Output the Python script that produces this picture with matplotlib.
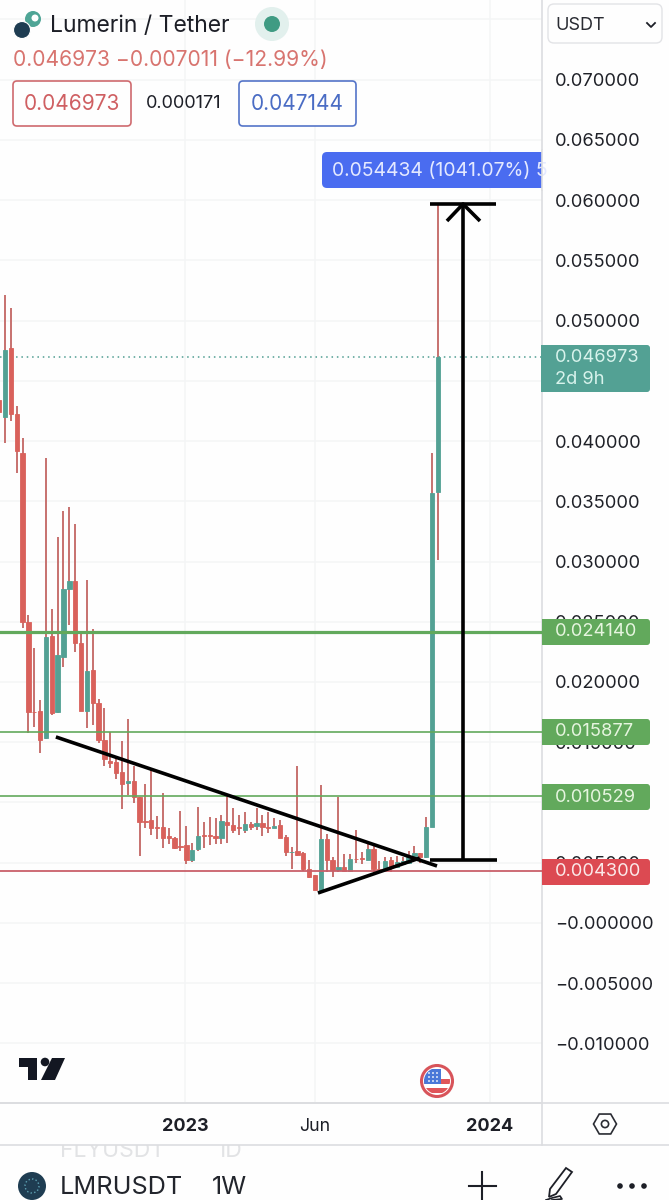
# -*- coding: utf-8 -*-
import numpy as np
import matplotlib
matplotlib.use("Agg")
import matplotlib.pyplot as plt
from matplotlib.patches import Circle, FancyBboxPatch, Rectangle, Polygon, RegularPolygon

plt.rcParams['font.family'] = ['Inter', 'DejaVu Sans']

# weekly candles, values in 1/1000 USDT, first bar is the sliver on the left edge
bar_idx = np.arange(-1, 75)
opens = [43.40, 41.99, 47.72, 42.24, 39.00, 24.98, 17.51, 17.60, 15.36, 23.82,
         17.51, 22.08, 27.72, 28.39, 23.24, 17.60, 21.00, 18.26, 15.19, 13.45,
         13.36, 12.53, 11.62, 11.79, 10.46, 8.47, 8.55, 7.97, 7.97, 7.22,
         7.05, 6.39, 6.47, 5.23, 6.14, 7.30, 7.30, 7.22, 7.05, 8.38,
         8.13, 7.97, 7.72, 8.22, 8.05, 8.30, 7.97, 7.89, 8.13, 7.14,
         5.85, 5.98, 5.81, 4.48, 3.98, 2.74, 6.97, 5.23, 4.40, 4.65,
         4.32, 5.35, 5.39, 5.23, 6.14, 4.48, 4.40, 5.23, 4.65, 4.90,
         4.98, 5.56, 5.81, 5.48, 7.97, 35.77]
closes = [42.41, 47.55, 42.24, 39.17, 24.98, 17.51, 17.47, 15.19, 23.74, 17.43,
          22.24, 27.72, 28.39, 23.24, 17.60, 20.92, 18.26, 15.19, 13.61, 13.28,
          12.45, 11.54, 11.79, 10.46, 8.38, 8.38, 7.89, 7.89, 7.05, 7.05,
          6.22, 6.31, 5.23, 6.06, 7.22, 7.22, 7.26, 7.05, 8.47, 8.13,
          7.72, 7.89, 8.22, 7.97, 8.30, 7.97, 7.89, 8.05, 7.05, 5.89,
          5.93, 5.64, 4.48, 3.82, 2.74, 6.97, 5.23, 4.40, 4.65, 4.32,
          5.31, 5.27, 5.31, 6.14, 4.48, 4.40, 5.15, 4.65, 5.06, 5.15,
          5.48, 5.81, 5.48, 7.97, 35.69, 46.973]
highs = [43.80, 52.12, 51.04, 42.91, 40.25, 25.56, 22.82, 18.51, 38.60, 26.06,
         32.04, 34.20, 34.53, 33.12, 24.15, 28.47, 24.40, 18.59, 17.85, 15.85,
         13.78, 15.11, 16.93, 13.03, 10.46, 11.54, 12.87, 8.88, 10.79, 7.89,
         7.14, 9.30, 8.05, 6.64, 9.63, 8.38, 8.80, 8.71, 8.96, 10.62,
         9.54, 8.96, 9.21, 8.38, 9.54, 8.96, 9.21, 8.71, 8.55, 7.30,
         6.31, 13.03, 5.89, 5.23, 3.98, 11.45, 7.39, 5.48, 10.46, 5.73,
         5.73, 7.72, 5.89, 6.64, 6.39, 5.15, 5.48, 5.48, 5.56, 5.48,
         5.98, 6.39, 5.81, 8.80, 39.00, 59.70]
lows = [42.20, 39.84, 41.66, 37.35, 24.48, 15.77, 16.27, 14.11, 15.27, 17.26,
        17.43, 21.25, 24.73, 22.49, 17.60, 16.18, 16.43, 14.94, 13.03, 12.87,
        11.95, 9.46, 10.62, 9.96, 5.56, 7.89, 7.30, 6.97, 6.22, 6.56,
        6.14, 5.98, 4.90, 5.06, 5.98, 6.22, 6.47, 6.56, 6.56, 6.64,
        7.47, 7.30, 7.47, 7.72, 7.72, 7.22, 7.47, 7.89, 7.05, 5.56,
        4.48, 5.56, 4.32, 3.73, 2.74, 2.49, 4.23, 3.82, 4.23, 4.23,
        4.23, 4.98, 4.90, 5.23, 4.07, 4.23, 4.32, 4.23, 4.65, 4.81,
        4.90, 5.48, 4.98, 5.39, 7.97, 30.12]

y_ticks = [0.07, 0.065, 0.06, 0.055, 0.05, 0.045, 0.04, 0.035, 0.03, 0.025, 0.02,
           0.015, 0.01, 0.005, 0.0, -0.005, -0.01]
y_labels = ["0.070000", "0.065000", "0.060000", "0.055000", "0.050000", "0.045000",
            "0.040000", "0.035000", "0.030000", "0.025000", "0.020000", "0.015000",
            "0.010000", "0.005000", "\u22120.000000", "\u22120.005000", "\u22120.010000"]
x_ticks = [30.8, 53.0, 82.85]
x_labels = ["2023", "Jun", "2024"]

last_price = 0.046973
green_levels = [0.024140, 0.015877, 0.010529]
red_level = 0.004300

# hand drawn lines on the chart: bar index, price in 1/1000 USDT
trend_down = ([8.7, 73.85], [15.44, 4.73])
trend_up = ([53.5, 70.9], [2.49, 5.39])
base_line = ([72.6, 84.1], [5.23, 5.23])
top_line = ([72.6, 84.0], [59.67, 59.67])
arrow_shaft = ([78.3, 78.3], [5.23, 59.67])
arrow_head = ([75.55, 78.3, 81.2], [58.26, 59.67, 58.26])

RED = "#d9615b"
TEAL = "#53a194"
WICK = "#c7716f"
GRID = "#f4f5f6"
BORDER = "#dcdde0"
GREEN = "#62a95c"
INK = "#1d1f27"

fig = plt.figure(figsize=(6.69, 12), dpi=100, facecolor="#fefefe")

# main chart, 542 px wide and 1103 px high
ax = fig.add_axes([0, 97 / 1200, 542 / 669, 1103 / 1200], facecolor="#fefefe")
ax.set_xlim(-0.855, 91.8)
ax.set_ylim(-0.01494, 0.0766)

for s in ["top", "left"]:
    ax.spines[s].set_visible(False)
for s in ["right", "bottom"]:
    ax.spines[s].set_color(BORDER)
    ax.spines[s].set_linewidth(1.2)

ax.yaxis.tick_right()
ax.set_yticks(y_ticks)
ax.set_yticklabels(y_labels, fontsize=13.2, color="#1f2128")
ax.set_xticks(x_ticks)
ax.set_xticklabels(x_labels, fontsize=13, color=INK)
for lab in ax.get_xticklabels():
    if lab.get_text() != "Jun":
        lab.set_fontweight("bold")
    else:
        lab.set_fontsize(12.8)
ax.tick_params(axis="both", length=0)
ax.tick_params(axis="y", pad=9.5)
ax.tick_params(axis="x", pad=10.5)

ax.set_yticks([0.075], minor=True)
ax.tick_params(axis="y", which="minor", length=0)
ax.grid(True, which="both", color=GRID, linewidth=1.1, zorder=0)
ax.set_axisbelow(True)

o = np.array(opens) / 1000
c = np.array(closes) / 1000
h = np.array(highs) / 1000
l = np.array(lows) / 1000
body_col = [TEAL if c[i] >= o[i] else RED for i in range(len(o))]

ax.vlines(bar_idx, l, h, color=WICK, linewidth=1.4, zorder=2)
ax.bar(bar_idx, np.abs(c - o), bottom=np.minimum(o, c), width=0.74, color=body_col,
       edgecolor=body_col, linewidth=0.6, zorder=3)

ax.axhline(last_price, color="#4f9d91", linewidth=1.1, linestyle=(0, (1, 2.5)), zorder=2)
ax.axhline(green_levels[0], color=GREEN, linewidth=2.3, zorder=4)
ax.axhline(green_levels[1], color=GREEN, linewidth=1.2, zorder=4)
ax.axhline(green_levels[2], color=GREEN, linewidth=1.2, zorder=4)
ax.axhline(red_level, color="#c9606a", linewidth=1.3, zorder=4)

for line in [trend_down, trend_up, base_line, top_line, arrow_shaft, arrow_head]:
    ax.plot(line[0], np.array(line[1]) / 1000, color="black", linewidth=2.6,
            solid_capstyle="butt", zorder=6)

# everything outside the plot goes on a pixel overlay
ov = fig.add_axes([0, 0, 1, 1], facecolor="none")
ov.set_xlim(0, 669)
ov.set_ylim(1200, 0)
ov.axis("off")


def box(x0, y0, x1, y1, fc, ec="none", lw=1.0, r=4, z=5):
    p = FancyBboxPatch((x0 + r, y0 + r), x1 - x0 - 2 * r, y1 - y0 - 2 * r,
                       boxstyle="round,pad=%d,rounding_size=%d" % (r, r),
                       fc=fc, ec=ec, lw=lw, zorder=z)
    ov.add_patch(p)
    return p


# header
ov.add_patch(Circle((272, 24), 17, fc="#e2f0ed", ec="none", zorder=5))
ov.add_patch(Circle((272, 24), 8, fc="#3f9b83", ec="none", zorder=6))
ov.add_patch(Circle((33, 19), 8, fc="#4fa596", ec="none", zorder=5))
ov.add_patch(Circle((35, 18), 3.5, fc="white", ec="none", zorder=5))
ov.add_patch(Circle((22, 30), 8.5, fc="#1f3d52", ec="white", lw=0.8, zorder=6))
ov.text(50, 26, "Lumerin / Tether", fontsize=16.5, color=INK, va="center", ha="left", zorder=6)
ov.text(13, 60, "0.046973 \u22120.007011 (\u221212.99%)", fontsize=15.2, color="#d8746f",
        va="center", ha="left", zorder=6)
box(13, 81, 131, 126, "#fefefe", ec="#cf6a6e", lw=1.2)
box(239, 81, 356, 126, "#fefefe", ec="#5474c8", lw=1.2)
ov.text(72, 104, "0.046973", fontsize=15, color="#cf5f62", va="center", ha="center", zorder=6)
ov.text(184, 104, "0.000171", fontsize=13, color=INK, va="center", ha="center", zorder=6)
ov.text(297, 104, "0.047144", fontsize=15, color="#4a6cc4", va="center", ha="center", zorder=6)

# currency selector
box(548, 4, 662, 43, "#fefefe", ec="#e2e3e6", lw=1.0, r=6)
ov.text(555, 25, "USDT", fontsize=13, color="#2a2c33", va="center", ha="left", zorder=6)
ov.plot([647, 651, 655], [23, 27, 23], color="#1d1f27", lw=1.3, zorder=6)

# measure label, text runs off under the scale
box(322, 152, 560, 188, "#4a6cf0", r=5)
ov.add_patch(Rectangle((542, 150), 128, 40, fc="#fefefe", ec="none", zorder=5.5))
t = ov.text(332, 171, "0.054434 (1041.07%) 5", fontsize=13.95, color="#e4e9ff",
            va="center", ha="left", zorder=6)
t.set_clip_path(Rectangle((322, 150), 220, 40, transform=ov.transData))
ov.plot([542, 542], [150, 190], color=BORDER, lw=1.2, zorder=6)

# price labels on the scale
box(541, 345, 650, 392, TEAL, r=3)
ov.add_patch(Rectangle((541, 345), 6, 47, fc=TEAL, ec="none", zorder=5))
ov.text(555, 357, "0.046973", fontsize=13.2, color="#d8f3ec", va="center", ha="left", zorder=6)
ov.text(555, 380, "2d 9h", fontsize=13.2, color="#d8f3ec", va="center", ha="left", zorder=6)

labels_y = [632, 732, 797, 872]
labels_txt = ["0.024140", "0.015877", "0.010529", "0.004300"]
labels_col = [GREEN, GREEN, GREEN, "#dc4a52"]
labels_ink = ["#e6f5df", "#e6f5df", "#e6f5df", "#fbe9e9"]
for yy, txt, col, ink in zip(labels_y, labels_txt, labels_col, labels_ink):
    box(542, yy - 13, 650, yy + 13, col, r=3)
    ov.add_patch(Rectangle((542, yy - 13), 6, 26, fc=col, ec="none", zorder=5))
    ov.text(555, yy, txt, fontsize=13.2, color=ink, va="center", ha="left", zorder=6)

# tradingview logo
ov.add_patch(Polygon([(19, 1058), (37, 1058), (37, 1080), (28, 1080), (28, 1067), (19, 1067)],
                     fc="#131722", ec="none", zorder=6))
ov.add_patch(Circle((45, 1062), 4.3, fc="#131722", ec="none", zorder=6))
ov.add_patch(Polygon([(52, 1058), (65, 1058), (55, 1080), (41, 1080)], fc="#131722",
                     ec="none", zorder=6))

# flag marker
flag = Circle((437, 1081), 15.5, fc="white", ec="#d8545a", lw=2.2, zorder=6)
ov.add_patch(flag)
for yy in [1079, 1088]:
    r1 = Rectangle((423, yy), 28, 5, fc="#e0555a", ec="none", zorder=7)
    ov.add_patch(r1)
    r1.set_clip_path(Circle((437, 1081), 13, transform=ov.transData))
r2 = Rectangle((424, 1069), 17, 15, fc="#4a78d8", ec="none", zorder=8)
ov.add_patch(r2)
r2.set_clip_path(Circle((437, 1081), 13, transform=ov.transData))
for xx in [429, 433, 437]:
    for yy in [1073, 1077, 1081]:
        ov.add_patch(Circle((xx, yy), 0.9, fc="white", ec="none", zorder=9))

# time scale borders and settings icon
ov.plot([0, 669], [1103, 1103], color=BORDER, lw=1.2, zorder=4)
ov.plot([0, 669], [1145, 1145], color=BORDER, lw=1.2, zorder=4)
ov.plot([542, 542], [1103, 1145], color=BORDER, lw=1.2, zorder=4)
ov.add_patch(RegularPolygon((605, 1124), 6, radius=11.5, orientation=np.pi / 2, fc="none",
                            ec="#2a2c33", lw=1.2, zorder=6))
ov.add_patch(Circle((605, 1124), 3.6, fc="none", ec="#2a2c33", lw=1.2, zorder=6))

# bottom bar, the row behind it shows through and gets cut by the border
ov.text(60, 1151, "FLYUSDT", fontsize=16.5, color="#e2e3e5", va="center", ha="left", zorder=1)
ov.text(217, 1151, "1D", fontsize=16.5, color="#e2e3e5", va="center", ha="left", zorder=1)
ov.add_patch(Rectangle((0, 1134), 669, 11, fc="#fefefe", ec="none", zorder=2))
ov.add_patch(Circle((32, 1186), 14, fc="#1f3d52", ec="none", zorder=6))
ov.add_patch(Circle((32, 1186), 7, fc="none", ec="#5fa3b5", lw=1, ls=":", zorder=7))
ov.text(60, 1187, "LMRUSDT", fontsize=18.2, color="#22252c", va="center", ha="left", zorder=6)
ov.text(212, 1187, "1W", fontsize=18.2, color="#22252c", va="center", ha="left", zorder=6)
ov.plot([482, 482], [1172, 1200], color="#1d1f27", lw=1.5, zorder=6)
ov.plot([469, 496], [1186, 1186], color="#1d1f27", lw=1.5, zorder=6)
ov.add_patch(Polygon([(566, 1168), (572, 1172), (556, 1194), (549, 1197), (550, 1189)],
                     fc="none", ec="#1d1f27", lw=1.3, zorder=6))
ov.plot([546, 552, 560, 562, 552], [1200, 1198, 1196, 1199, 1200], color="#1d1f27", lw=1.2, zorder=6)
for xx in [620, 632, 644]:
    ov.add_patch(Circle((xx, 1186), 2.8, fc="#1d1f27", ec="none", zorder=6))

fig.savefig("out.png", dpi=100, facecolor=fig.get_facecolor())
